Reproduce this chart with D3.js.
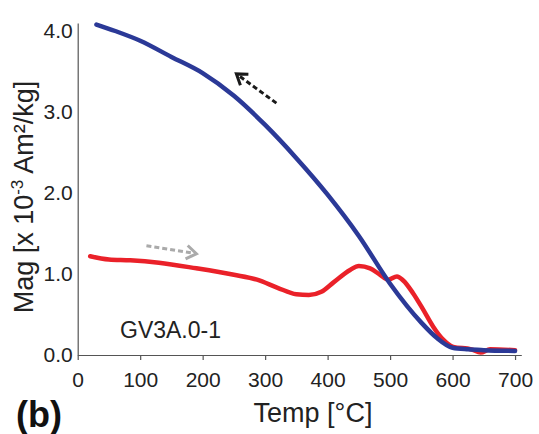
<!DOCTYPE html>
<html>
<head>
<meta charset="utf-8">
<script src="https://cdn.jsdelivr.net/npm/d3@7"></script>
<style>
  body { margin: 0; background: #fff; }
  svg { font-family: "Liberation Sans", Arial, sans-serif; }
</style>
</head>
<body>
<svg id="chart" width="539" height="434"></svg>
<script>
// heating curve (red)
const heatTemp = [20, 50, 84, 130, 190, 250, 287, 320, 350, 370, 390, 410, 436, 450, 468, 484, 497, 511, 521, 537, 553, 569, 585, 601, 630, 645, 660, 700];
const heatMag  = [1.22, 1.18, 1.17, 1.14, 1.07, 0.99, 0.93, 0.83, 0.75, 0.74, 0.78, 0.90, 1.05, 1.10, 1.07, 0.99, 0.93, 0.97, 0.92, 0.76, 0.56, 0.35, 0.19, 0.10, 0.07, 0.03, 0.07, 0.06];
// cooling curve (blue)
const coolTemp = [30, 60, 100, 150, 200, 250, 300, 350, 400, 450, 500, 550, 575, 600, 625, 650, 700];
const coolMag  = [4.08, 4.00, 3.88, 3.68, 3.48, 3.20, 2.84, 2.43, 1.98, 1.47, 0.88, 0.40, 0.21, 0.09, 0.07, 0.06, 0.05];

const xTicks = [0, 100, 200, 300, 400, 500, 600, 700];
const yTicks = [0, 1, 2, 3, 4];

// arrows: [tailT, tailMag, headT, headMag]
const coolArrow = [318, 3.11, 254, 3.47];
const heatArrow = [110, 1.35, 190, 1.25];

const svg = d3.select("#chart");

const x = d3.scaleLinear().domain([0, 710]).range([77.7, 521.3]);
const y = d3.scaleLinear().domain([0, 4.1]).range([355, 22.9]);

svg.append("g")
    .attr("transform", `translate(0,${y(0)})`)
    .call(d3.axisBottom(x).tickValues(xTicks).tickSize(5).tickSizeOuter(0).tickPadding(12).tickFormat(d3.format("d")))
    .call(g => g.selectAll("path, line").attr("stroke", "#555").attr("stroke-width", 1.2))
    .call(g => g.selectAll("text").attr("font-size", 21).attr("fill", "#222"));

svg.append("g")
    .attr("transform", `translate(${x(0)},0)`)
    .call(d3.axisLeft(y).tickValues(yTicks).tickSize(0).tickSizeOuter(0).tickPadding(5).tickFormat(d3.format(".1f")))
    .call(g => g.selectAll("path, line").attr("stroke", "#555").attr("stroke-width", 1.2))
    .call(g => g.selectAll("text").attr("font-size", 21).attr("fill", "#222"));

const line = d3.line().curve(d3.curveMonotoneX);

function drawCurve(temps, mags, color) {
    const pts = temps.map((t, i) => [x(t), y(mags[i])]);
    svg.append("path")
        .attr("d", line(pts))
        .attr("fill", "none")
        .attr("stroke", color)
        .attr("stroke-width", 4.5)
        .attr("stroke-linecap", "round")
        .attr("stroke-linejoin", "round");
}

drawCurve(heatTemp, heatMag, "#ea2129");
drawCurve(coolTemp, coolMag, "#2b3997");

function drawArrow(a, color) {
    const x1 = x(a[0]), y1 = y(a[1]), x2 = x(a[2]), y2 = y(a[3]);
    const ang = Math.atan2(y2 - y1, x2 - x1);
    svg.append("line")
        .attr("x1", x1).attr("y1", y1)
        .attr("x2", x2 - 3 * Math.cos(ang)).attr("y2", y2 - 3 * Math.sin(ang))
        .attr("stroke", color)
        .attr("stroke-width", 3)
        .attr("stroke-dasharray", "5,3");
    const len = 12, spread = 0.6;
    const head = [
        [x2 - len * Math.cos(ang - spread), y2 - len * Math.sin(ang - spread)],
        [x2, y2],
        [x2 - len * Math.cos(ang + spread), y2 - len * Math.sin(ang + spread)]
    ];
    svg.append("path")
        .attr("d", d3.line()(head))
        .attr("fill", "none")
        .attr("stroke", color)
        .attr("stroke-width", 3);
}

drawArrow(coolArrow, "#1a1a1a");
drawArrow(heatArrow, "#aaaaaa");

svg.append("text")
    .attr("x", 120)
    .attr("y", 338)
    .attr("font-size", 23)
    .attr("fill", "#222")
    .text("GV3A.0-1");

svg.append("text")
    .attr("x", 313)
    .attr("y", 422)
    .attr("text-anchor", "middle")
    .attr("font-size", 27)
    .attr("fill", "#222")
    .text("Temp [°C]");

const ylab = svg.append("text")
    .attr("transform", "translate(33,197) rotate(-90)")
    .attr("text-anchor", "middle")
    .attr("font-size", 27)
    .attr("fill", "#222");
ylab.append("tspan").text("Mag [x 10");
ylab.append("tspan").attr("dy", -10).attr("font-size", 17).text("-3");
ylab.append("tspan").attr("dy", 10).text(" Am²/kg]");

svg.append("text")
    .attr("x", 16)
    .attr("y", 427)
    .attr("font-size", 36)
    .attr("font-weight", "bold")
    .attr("fill", "#111")
    .text("(b)");
</script>
</body>
</html>
